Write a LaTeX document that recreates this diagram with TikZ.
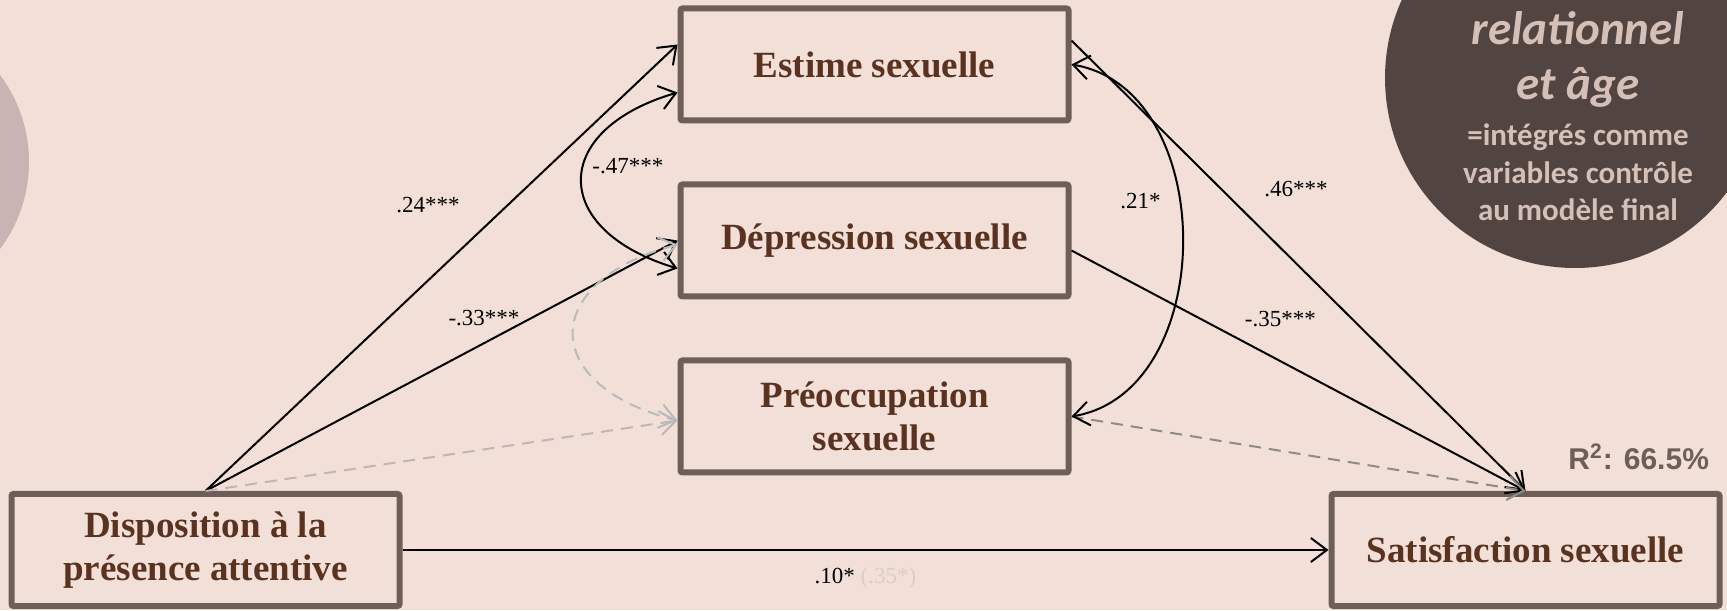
\documentclass[tikz,border=0pt]{standalone}
\usepackage{fontspec}
\setmainfont{Liberation Serif}
\newfontfamily\calibfont{Carlito}
\newfontfamily\arialfont{Liberation Sans}
\usetikzlibrary{positioning,arrows.meta}
\definecolor{pagebg}{HTML}{F2E0D8}
\definecolor{boxline}{HTML}{6E5E58}
\definecolor{boxtext}{HTML}{5A3220}
\definecolor{ctrlfill}{HTML}{514441}
\definecolor{ctrltext}{HTML}{D5C0B8}
\definecolor{blobgray}{HTML}{C8B5B3}
\definecolor{nsrose}{HTML}{C2B4B1}
\definecolor{nsblue}{HTML}{B7BBBD}
\definecolor{nsgray}{HTML}{8E8A89}
\definecolor{faded}{HTML}{DDCDC7}
\tikzset{
    >={Straight Barb[length=8pt,width=12pt]},
    every edge/.style={draw,->,line width=1pt},
    var/.style={draw=boxline,line width=3pt,fill=pagebg,rounded corners=1pt,
        minimum width=194pt,minimum height=56pt,align=center,text=boxtext,
        font=\bfseries\fontsize{18.5}{21.5}\selectfont},
    coef/.style={font=\fontsize{11.5}{13}\selectfont,inner sep=1pt},
    ns/.style={dash pattern=on 6pt off 4pt},
}

\begin{document}
\begin{tikzpicture}[x=0.5pt,y=0.5pt]
    \useasboundingbox (0,0) rectangle (1727,610);
    \clip (0,0) rectangle (1727,610);
    \fill[pagebg] (0,0) rectangle (1727,610);

    % decorations at the page edges
    \fill[blobgray] (-116,448) circle[radius=72.5pt];
    \fill[ctrlfill] (1575,532) circle[radius=95pt];
    \node[font=\calibfont\bfseries\itshape\fontsize{23.5}{27.5}\selectfont,text=ctrltext,align=center]
        (ctrl) at (1578,551) {relationnel\\et âge};
    \node[font=\calibfont\bfseries\fontsize{15.5}{18.75}\selectfont,text=ctrltext,align=center]
        (ctrlnote) at (1578,437.5) {=intégrés comme\\variables contrôle\\au modèle final};

    % variables
    \node[var] (est) at (874.5,545.5) {Estime sexuelle};
    \node[var,below=29pt of est] (dep) {Dépression sexuelle};
    \node[var,below=29pt of dep] (pre) {Préoccupation\\sexuelle};
    \node[var] (dis) at (205.5,60) {Disposition à la\\présence attentive};
    \node[var] (sat) at (1525.5,60) {Satisfaction sexuelle};
    \node[font=\arialfont\bfseries\fontsize{15}{18}\selectfont,text=boxline,anchor=east]
        (rsq) at (1716,153) {R\textsuperscript{2}: 66.5\%};

    % paths
    \path
    (dis.north) edge node[coef,pos=0.64,left=22.5pt] {.24***} ([yshift=10pt]est.west)
    (dis.north) edge node[coef,pos=0.59,above=7pt] {-.33***} (dep.west)
    (dis.north) edge[ns,nsrose] ([yshift=-2pt]pre.west)
    ([yshift=12pt]est.east) edge node[coef,pos=0.33,right=20pt] {.46***} (sat.north)
    ([yshift=-5pt]dep.east) edge node[coef,pos=0.46,above=15.5pt] {-.35***} (sat.north)
    (pre.east) edge[ns,nsgray] (sat.north)
    (dis.east) edge node[coef,below=7.5pt] {.10* \textcolor{faded}{(.35*)}} (sat.west);

    % covariances
    \draw[<->,line width=1pt] ([yshift=-14pt]est.west) .. controls +(-128,-37.5) and +(-128,38.5) .. ([yshift=-14pt]dep.west)
        node[coef,pos=0.43,right=3pt] {-.47***};
    \draw[<->,line width=1pt,ns,nsblue] ([yshift=-2pt]dep.west) .. controls +(-139,-37) and +(-139,35) .. ([yshift=-2pt]pre.west);
    \draw[<->,line width=1pt] (est.east) .. controls +(148,-25) and +(148,25) .. (pre.east)
        node[coef,pos=0.42,left=8pt] {.21*};
\end{tikzpicture}
\end{document}
